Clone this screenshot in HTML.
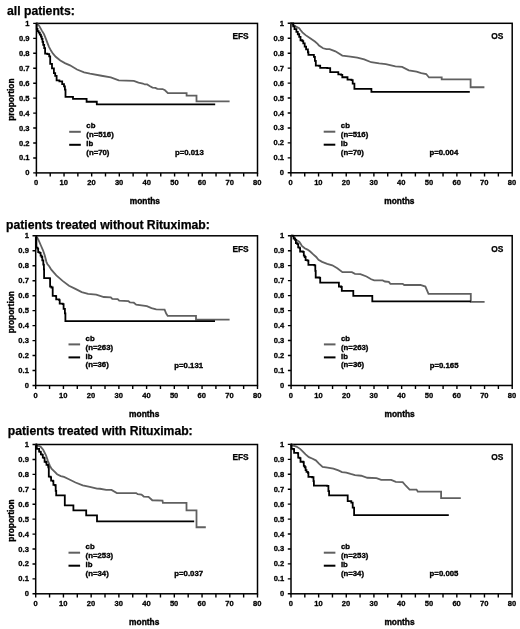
<!DOCTYPE html>
<html><head><meta charset="utf-8"><title>Kaplan-Meier curves</title>
<style>
html,body{margin:0;padding:0;background:#fff;-webkit-font-smoothing:antialiased;}
body{width:520px;height:629px;overflow:hidden;}
svg{display:block;filter:grayscale(1);}
text{font-family:"Liberation Sans",sans-serif;font-weight:bold;fill:#000;stroke:#000;stroke-width:0.25px;}
.tl{font-size:12.2px;}
.tk{font-size:8.0px;stroke-width:0.3px;}
.lg{font-size:7.95px;stroke-width:0.35px;}
.lb{font-size:8.4px;}
.ax{font-size:8.4px;stroke-width:0.35px;}
.box{fill:none;stroke:#000;stroke-width:1.5;}
.tick{stroke:#000;stroke-width:1.4;}
.cg{fill:none;stroke:#606060;stroke-width:1.8;stroke-linejoin:miter;}
.cb{fill:none;stroke:#000;stroke-width:1.8;stroke-linejoin:miter;}
</style></head><body>
<svg width="520" height="629" viewBox="0 0 520 629">
<rect x="0" y="0" width="520" height="629" fill="#fff"/>
<text class="tl" x="7" y="14.6">all patients:</text>
<text class="tl" x="6" y="228.5">patients treated without Rituximab:</text>
<text class="tl" x="7.8" y="434.6">patients treated with Rituximab:</text>
<g>
<rect class="box" x="36.4" y="23.4" width="221.1" height="149.5"/>
<path class="tick" d="M33.2 172.9H36.4M33.2 157.95H36.4M33.2 143H36.4M33.2 128.05H36.4M33.2 113.1H36.4M33.2 98.15H36.4M33.2 83.2H36.4M33.2 68.25H36.4M33.2 53.3H36.4M33.2 38.35H36.4M33.2 23.4H36.4M36.4 172.9V176.5M50.22 172.9V176.5M64.04 172.9V176.5M77.86 172.9V176.5M91.67 172.9V176.5M105.49 172.9V176.5M119.31 172.9V176.5M133.13 172.9V176.5M146.95 172.9V176.5M160.77 172.9V176.5M174.59 172.9V176.5M188.41 172.9V176.5M202.22 172.9V176.5M216.04 172.9V176.5M229.86 172.9V176.5M243.68 172.9V176.5M257.5 172.9V176.5"/>
<text class="tk" text-anchor="end" transform="translate(29.6 175.4) scale(0.95 1)">0</text>
<text class="tk" text-anchor="end" transform="translate(29.6 160.45) scale(0.95 1)">0.1</text>
<text class="tk" text-anchor="end" transform="translate(29.6 145.5) scale(0.95 1)">0.2</text>
<text class="tk" text-anchor="end" transform="translate(29.6 130.55) scale(0.95 1)">0.3</text>
<text class="tk" text-anchor="end" transform="translate(29.6 115.6) scale(0.95 1)">0.4</text>
<text class="tk" text-anchor="end" transform="translate(29.6 100.65) scale(0.95 1)">0.5</text>
<text class="tk" text-anchor="end" transform="translate(29.6 85.7) scale(0.95 1)">0.6</text>
<text class="tk" text-anchor="end" transform="translate(29.6 70.75) scale(0.95 1)">0.7</text>
<text class="tk" text-anchor="end" transform="translate(29.6 55.8) scale(0.95 1)">0.8</text>
<text class="tk" text-anchor="end" transform="translate(29.6 40.85) scale(0.95 1)">0.9</text>
<text class="tk" text-anchor="end" transform="translate(29.6 25.9) scale(0.95 1)">1</text>
<text class="tk" text-anchor="middle" transform="translate(36.2 185.1) scale(0.95 1)">0</text>
<text class="tk" text-anchor="middle" transform="translate(63.84 185.1) scale(0.95 1)">10</text>
<text class="tk" text-anchor="middle" transform="translate(91.47 185.1) scale(0.95 1)">20</text>
<text class="tk" text-anchor="middle" transform="translate(119.11 185.1) scale(0.95 1)">30</text>
<text class="tk" text-anchor="middle" transform="translate(146.75 185.1) scale(0.95 1)">40</text>
<text class="tk" text-anchor="middle" transform="translate(174.39 185.1) scale(0.95 1)">50</text>
<text class="tk" text-anchor="middle" transform="translate(202.03 185.1) scale(0.95 1)">60</text>
<text class="tk" text-anchor="middle" transform="translate(229.66 185.1) scale(0.95 1)">70</text>
<text class="tk" text-anchor="middle" transform="translate(257.3 185.1) scale(0.95 1)">80</text>
<text class="ax" x="144.9" y="204.1" text-anchor="middle">months</text>
<text class="ax" x="0" y="0" text-anchor="middle" transform="translate(13.7 99.6) rotate(-90)">proportion</text>
<text class="lb" x="248.7" y="39.2" text-anchor="end">EFS</text>
<path d="M69.2 131.8H80.8" stroke="#606060" stroke-width="2"/>
<path d="M69.2 144.8H80.8" stroke="#000" stroke-width="2"/>
<text class="lg" transform="translate(86.3 128.1) scale(0.98 1)">cb</text>
<text class="lg" transform="translate(86.3 137) scale(0.98 1)">(n=516)</text>
<text class="lg" transform="translate(86.3 145.9) scale(0.98 1)">ib</text>
<text class="lg" transform="translate(86.3 154.8) scale(0.98 1)">(n=70)</text>
<text class="lg" transform="translate(175 154.9) scale(0.98 1)">p=0.013</text>
<polyline class="cg" points="36.4,23.4 37.5,23.95 39.4,26.15 41.7,30.35 44,34.15 45.9,38.85 47.4,42.85 49,46.85 51.1,50.85 53,53.65 55.7,56.75 60.3,60.55 64.9,63.15 70,65.35 77,69.55 84.1,72.35 90,73.65 101.5,75.75 110.8,77.45 118.8,80.35 133.8,80.95 138.5,82.65 142.9,83.55 144.8,84.45 147.2,84.45 149.6,85.95 152.5,87.65 155.4,87.85 157.3,88.85 162.6,89.05 165,90.25 167.9,93.15 186.6,93.15 186.6,95.55 196.5,95.55 196.5,101.35 229.6,101.35"/>
<path class="cb" d="M36.4 23.4H36.7V23.85H36.7V28.85H37.5V31.15H38.6V32.65H39.8V34.55H40.9V36.55H41.7V38.85H42.5V41.85H43.2V44.95H44.2V48.15H45.1V53.65H47.4V54.15H49.2V56.45H50.2V63.85H52V68.45H53.9V73.05H55.2V75.85H56.6V80.45H59.4V81.35H62.2V84.15H64V86.45H64.9V89.65H65.5V96.95H73V96.95H73V98.85H86.6V98.85H86.6V101.75H96.8V101.75H96.8V104.35H215.2V104.35"/>
</g>
<g>
<rect class="box" x="290.9" y="23.3" width="221.3" height="149.5"/>
<path class="tick" d="M287.7 172.8H290.9M287.7 157.85H290.9M287.7 142.9H290.9M287.7 127.95H290.9M287.7 113H290.9M287.7 98.05H290.9M287.7 83.1H290.9M287.7 68.15H290.9M287.7 53.2H290.9M287.7 38.25H290.9M287.7 23.3H290.9M290.9 172.8V176.4M304.73 172.8V176.4M318.56 172.8V176.4M332.39 172.8V176.4M346.23 172.8V176.4M360.06 172.8V176.4M373.89 172.8V176.4M387.72 172.8V176.4M401.55 172.8V176.4M415.38 172.8V176.4M429.21 172.8V176.4M443.04 172.8V176.4M456.88 172.8V176.4M470.71 172.8V176.4M484.54 172.8V176.4M498.37 172.8V176.4M512.2 172.8V176.4"/>
<text class="tk" text-anchor="end" transform="translate(284.1 175.3) scale(0.95 1)">0</text>
<text class="tk" text-anchor="end" transform="translate(284.1 160.35) scale(0.95 1)">0.1</text>
<text class="tk" text-anchor="end" transform="translate(284.1 145.4) scale(0.95 1)">0.2</text>
<text class="tk" text-anchor="end" transform="translate(284.1 130.45) scale(0.95 1)">0.3</text>
<text class="tk" text-anchor="end" transform="translate(284.1 115.5) scale(0.95 1)">0.4</text>
<text class="tk" text-anchor="end" transform="translate(284.1 100.55) scale(0.95 1)">0.5</text>
<text class="tk" text-anchor="end" transform="translate(284.1 85.6) scale(0.95 1)">0.6</text>
<text class="tk" text-anchor="end" transform="translate(284.1 70.65) scale(0.95 1)">0.7</text>
<text class="tk" text-anchor="end" transform="translate(284.1 55.7) scale(0.95 1)">0.8</text>
<text class="tk" text-anchor="end" transform="translate(284.1 40.75) scale(0.95 1)">0.9</text>
<text class="tk" text-anchor="end" transform="translate(284.1 25.8) scale(0.95 1)">1</text>
<text class="tk" text-anchor="middle" transform="translate(290.7 185) scale(0.95 1)">0</text>
<text class="tk" text-anchor="middle" transform="translate(318.36 185) scale(0.95 1)">10</text>
<text class="tk" text-anchor="middle" transform="translate(346.03 185) scale(0.95 1)">20</text>
<text class="tk" text-anchor="middle" transform="translate(373.69 185) scale(0.95 1)">30</text>
<text class="tk" text-anchor="middle" transform="translate(401.35 185) scale(0.95 1)">40</text>
<text class="tk" text-anchor="middle" transform="translate(429.01 185) scale(0.95 1)">50</text>
<text class="tk" text-anchor="middle" transform="translate(456.68 185) scale(0.95 1)">60</text>
<text class="tk" text-anchor="middle" transform="translate(484.34 185) scale(0.95 1)">70</text>
<text class="tk" text-anchor="middle" transform="translate(512 185) scale(0.95 1)">80</text>
<text class="ax" x="399.4" y="204" text-anchor="middle">months</text>
<text class="lb" x="503.4" y="39.1" text-anchor="end">OS</text>
<path d="M323.7 131.7H335.3" stroke="#606060" stroke-width="2"/>
<path d="M323.7 144.7H335.3" stroke="#000" stroke-width="2"/>
<text class="lg" transform="translate(340.8 128) scale(0.98 1)">cb</text>
<text class="lg" transform="translate(340.8 136.9) scale(0.98 1)">(n=516)</text>
<text class="lg" transform="translate(340.8 145.8) scale(0.98 1)">ib</text>
<text class="lg" transform="translate(340.8 154.7) scale(0.98 1)">(n=70)</text>
<text class="lg" transform="translate(429.5 154.8) scale(0.98 1)">p=0.004</text>
<polyline class="cg" points="290.9,23.3 291.8,24.05 295.5,26.35 299.2,28.15 300.5,30.05 302.4,32.35 305.6,35.15 310.2,38.35 314.9,41.55 317.6,43.85 319,45.55 323.1,48.25 326.5,49.15 329.6,49.15 335.4,51.35 342.3,55.55 350.4,56.55 357.3,57.65 364.2,59.35 371.2,62.25 379.2,63.45 385.8,64.05 395.4,66.35 402.1,66.85 408.8,70.35 416.5,71.65 421.3,73.05 426.2,74.05 429,77.45 441.7,77.45 441.7,79.45 470.6,79.45 470.6,87.25 484.4,87.25"/>
<path class="cb" d="M290.9 23.3H293.2V26.35H294.5V29.15H296.4V31.85H297.8V34.25H299.2V36.95H300.5V40.25H302.4V41.15H303.3V43.45H304.7V46.65H306.1V49.45H307.9V52.25H308.4V54.95H313V54.95H313.9V56.85H314.9V60.95H315.8V65.55H319V65.75H320.2V67.85H326.5V67.85H327.3V68.05H330.2V72.05H337.1V72.05H338.3V74.35H341.2V74.95H342.3V77.25H346.3V77.25H347.5V79.55H351.5V80.15H352.7V83.65H354.4V88.85H371.4V88.85H371.4V91.85H469.8V91.85"/>
</g>
<g>
<rect class="box" x="35.7" y="235.8" width="221.8" height="149.7"/>
<path class="tick" d="M32.5 385.5H35.7M32.5 370.53H35.7M32.5 355.56H35.7M32.5 340.59H35.7M32.5 325.62H35.7M32.5 310.65H35.7M32.5 295.68H35.7M32.5 280.71H35.7M32.5 265.74H35.7M32.5 250.77H35.7M32.5 235.8H35.7M35.7 385.5V389.1M49.56 385.5V389.1M63.43 385.5V389.1M77.29 385.5V389.1M91.15 385.5V389.1M105.01 385.5V389.1M118.88 385.5V389.1M132.74 385.5V389.1M146.6 385.5V389.1M160.46 385.5V389.1M174.32 385.5V389.1M188.19 385.5V389.1M202.05 385.5V389.1M215.91 385.5V389.1M229.78 385.5V389.1M243.64 385.5V389.1M257.5 385.5V389.1"/>
<text class="tk" text-anchor="end" transform="translate(28.9 388) scale(0.95 1)">0</text>
<text class="tk" text-anchor="end" transform="translate(28.9 373.03) scale(0.95 1)">0.1</text>
<text class="tk" text-anchor="end" transform="translate(28.9 358.06) scale(0.95 1)">0.2</text>
<text class="tk" text-anchor="end" transform="translate(28.9 343.09) scale(0.95 1)">0.3</text>
<text class="tk" text-anchor="end" transform="translate(28.9 328.12) scale(0.95 1)">0.4</text>
<text class="tk" text-anchor="end" transform="translate(28.9 313.15) scale(0.95 1)">0.5</text>
<text class="tk" text-anchor="end" transform="translate(28.9 298.18) scale(0.95 1)">0.6</text>
<text class="tk" text-anchor="end" transform="translate(28.9 283.21) scale(0.95 1)">0.7</text>
<text class="tk" text-anchor="end" transform="translate(28.9 268.24) scale(0.95 1)">0.8</text>
<text class="tk" text-anchor="end" transform="translate(28.9 253.27) scale(0.95 1)">0.9</text>
<text class="tk" text-anchor="end" transform="translate(28.9 238.3) scale(0.95 1)">1</text>
<text class="tk" text-anchor="middle" transform="translate(35.5 397.7) scale(0.95 1)">0</text>
<text class="tk" text-anchor="middle" transform="translate(63.23 397.7) scale(0.95 1)">10</text>
<text class="tk" text-anchor="middle" transform="translate(90.95 397.7) scale(0.95 1)">20</text>
<text class="tk" text-anchor="middle" transform="translate(118.68 397.7) scale(0.95 1)">30</text>
<text class="tk" text-anchor="middle" transform="translate(146.4 397.7) scale(0.95 1)">40</text>
<text class="tk" text-anchor="middle" transform="translate(174.12 397.7) scale(0.95 1)">50</text>
<text class="tk" text-anchor="middle" transform="translate(201.85 397.7) scale(0.95 1)">60</text>
<text class="tk" text-anchor="middle" transform="translate(229.58 397.7) scale(0.95 1)">70</text>
<text class="tk" text-anchor="middle" transform="translate(257.3 397.7) scale(0.95 1)">80</text>
<text class="ax" x="144.2" y="416.7" text-anchor="middle">months</text>
<text class="ax" x="0" y="0" text-anchor="middle" transform="translate(13.7 312.2) rotate(-90)">proportion</text>
<text class="lb" x="248.7" y="251.8" text-anchor="end">EFS</text>
<path d="M68.5 344.4H80.1" stroke="#606060" stroke-width="2"/>
<path d="M68.5 357.4H80.1" stroke="#000" stroke-width="2"/>
<text class="lg" transform="translate(85.6 340.7) scale(0.98 1)">cb</text>
<text class="lg" transform="translate(85.6 349.6) scale(0.98 1)">(n=263)</text>
<text class="lg" transform="translate(85.6 358.5) scale(0.98 1)">ib</text>
<text class="lg" transform="translate(85.6 367.4) scale(0.98 1)">(n=36)</text>
<text class="lg" transform="translate(174.3 367.5) scale(0.98 1)">p=0.131</text>
<polyline class="cg" points="35.7,235.8 37.1,237.2 38.8,240.6 40.9,245.5 43,250.3 44.7,255.2 46.5,262.1 47.5,264.2 49.2,266.3 51.3,269.7 56.3,275.4 62.6,280.9 69,285.7 75.4,288.9 81.7,292.1 88.1,293.8 96.2,294.6 103.8,297 110.8,297.3 112.3,298.9 117.7,299.2 119.2,300.7 128.5,301.2 130,302.4 133.8,302.7 136.2,304.6 146.9,306.2 151.5,308.1 156.2,309.3 164.6,309.6 166.2,313.5 167.7,315.9 196,315.9 196,319.7 229.6,319.7"/>
<path class="cb" d="M35.7 235.8H36.4V247.6H37.5V248.6H38.2V252.1H39.5V252.8H40.6V255.6H41.6V257H42.3V260.4H43.3V264.6H43.9V269.4H44.1V278.1H49.6V278.3H50.1V286.6H51.4V287.5H52.7V295.8H55.7V296.2H56.2V299.3H59.2V300.1H59.7V303.6H62.7V304.1H63.6V308.9H64.9V313.3H65.4V321.1H215V321.1"/>
</g>
<g>
<rect class="box" x="291.1" y="235.7" width="221.1" height="149.8"/>
<path class="tick" d="M287.9 385.5H291.1M287.9 370.52H291.1M287.9 355.54H291.1M287.9 340.56H291.1M287.9 325.58H291.1M287.9 310.6H291.1M287.9 295.62H291.1M287.9 280.64H291.1M287.9 265.66H291.1M287.9 250.68H291.1M287.9 235.7H291.1M291.1 385.5V389.1M304.92 385.5V389.1M318.74 385.5V389.1M332.56 385.5V389.1M346.38 385.5V389.1M360.19 385.5V389.1M374.01 385.5V389.1M387.83 385.5V389.1M401.65 385.5V389.1M415.47 385.5V389.1M429.29 385.5V389.1M443.11 385.5V389.1M456.93 385.5V389.1M470.74 385.5V389.1M484.56 385.5V389.1M498.38 385.5V389.1M512.2 385.5V389.1"/>
<text class="tk" text-anchor="end" transform="translate(284.3 388) scale(0.95 1)">0</text>
<text class="tk" text-anchor="end" transform="translate(284.3 373.02) scale(0.95 1)">0.1</text>
<text class="tk" text-anchor="end" transform="translate(284.3 358.04) scale(0.95 1)">0.2</text>
<text class="tk" text-anchor="end" transform="translate(284.3 343.06) scale(0.95 1)">0.3</text>
<text class="tk" text-anchor="end" transform="translate(284.3 328.08) scale(0.95 1)">0.4</text>
<text class="tk" text-anchor="end" transform="translate(284.3 313.1) scale(0.95 1)">0.5</text>
<text class="tk" text-anchor="end" transform="translate(284.3 298.12) scale(0.95 1)">0.6</text>
<text class="tk" text-anchor="end" transform="translate(284.3 283.14) scale(0.95 1)">0.7</text>
<text class="tk" text-anchor="end" transform="translate(284.3 268.16) scale(0.95 1)">0.8</text>
<text class="tk" text-anchor="end" transform="translate(284.3 253.18) scale(0.95 1)">0.9</text>
<text class="tk" text-anchor="end" transform="translate(284.3 238.2) scale(0.95 1)">1</text>
<text class="tk" text-anchor="middle" transform="translate(290.9 397.7) scale(0.95 1)">0</text>
<text class="tk" text-anchor="middle" transform="translate(318.54 397.7) scale(0.95 1)">10</text>
<text class="tk" text-anchor="middle" transform="translate(346.18 397.7) scale(0.95 1)">20</text>
<text class="tk" text-anchor="middle" transform="translate(373.81 397.7) scale(0.95 1)">30</text>
<text class="tk" text-anchor="middle" transform="translate(401.45 397.7) scale(0.95 1)">40</text>
<text class="tk" text-anchor="middle" transform="translate(429.09 397.7) scale(0.95 1)">50</text>
<text class="tk" text-anchor="middle" transform="translate(456.73 397.7) scale(0.95 1)">60</text>
<text class="tk" text-anchor="middle" transform="translate(484.36 397.7) scale(0.95 1)">70</text>
<text class="tk" text-anchor="middle" transform="translate(512 397.7) scale(0.95 1)">80</text>
<text class="ax" x="399.6" y="416.7" text-anchor="middle">months</text>
<text class="lb" x="503.4" y="251.8" text-anchor="end">OS</text>
<path d="M323.9 344.4H335.5" stroke="#606060" stroke-width="2"/>
<path d="M323.9 357.4H335.5" stroke="#000" stroke-width="2"/>
<text class="lg" transform="translate(341 340.7) scale(0.98 1)">cb</text>
<text class="lg" transform="translate(341 349.6) scale(0.98 1)">(n=263)</text>
<text class="lg" transform="translate(341 358.5) scale(0.98 1)">ib</text>
<text class="lg" transform="translate(341 367.4) scale(0.98 1)">(n=36)</text>
<text class="lg" transform="translate(429.7 367.5) scale(0.98 1)">p=0.165</text>
<polyline class="cg" points="291.1,235.7 292.7,235.8 294.5,238.1 296.8,240.4 299.2,241.8 300.5,243.6 301.9,245.9 304.7,248.2 307.5,249.6 310.2,251.5 313,254.2 316.2,257 318.5,259.8 322.1,261.9 327.2,263.8 332.3,265.3 337.3,268.3 342.4,272.1 351.9,272.2 355,273.8 360.4,274.2 366.5,276.5 371.2,279.3 374.2,280.4 382.7,280.4 385,281.5 388.8,281.9 390.4,283.8 402.7,283.8 404.2,285 420.4,285 425.4,286.6 428.5,293.8 470.8,293.8 470.8,301.8 484.6,301.8"/>
<path class="cb" d="M291.1 235.7H292.7V235.8H293.6V238.5H295V239.9H295.9V243.2H297.3V244.1H298.2V247.3H299.6V248.2H300.1V251.5H302.9V251.9H303.8V255.6H304.7V257H305.6V260.2H307.5V260.7H308.4V264.9H314.4V265.3H315.3V270.9H315.7V277.5H319.5V277.8H320.2V282.6H338V282.6H338.9V286.5H341.2V287H341.8V290.9H352.9V290.9H353.3V295.8H372.1V295.8H372.3V301.3H470.8V301.3"/>
</g>
<g>
<rect class="box" x="35.7" y="444.5" width="221.8" height="149.3"/>
<path class="tick" d="M32.5 593.8H35.7M32.5 578.87H35.7M32.5 563.94H35.7M32.5 549.01H35.7M32.5 534.08H35.7M32.5 519.15H35.7M32.5 504.22H35.7M32.5 489.29H35.7M32.5 474.36H35.7M32.5 459.43H35.7M32.5 444.5H35.7M35.7 593.8V597.4M49.56 593.8V597.4M63.43 593.8V597.4M77.29 593.8V597.4M91.15 593.8V597.4M105.01 593.8V597.4M118.88 593.8V597.4M132.74 593.8V597.4M146.6 593.8V597.4M160.46 593.8V597.4M174.32 593.8V597.4M188.19 593.8V597.4M202.05 593.8V597.4M215.91 593.8V597.4M229.78 593.8V597.4M243.64 593.8V597.4M257.5 593.8V597.4"/>
<text class="tk" text-anchor="end" transform="translate(28.9 596.3) scale(0.95 1)">0</text>
<text class="tk" text-anchor="end" transform="translate(28.9 581.37) scale(0.95 1)">0.1</text>
<text class="tk" text-anchor="end" transform="translate(28.9 566.44) scale(0.95 1)">0.2</text>
<text class="tk" text-anchor="end" transform="translate(28.9 551.51) scale(0.95 1)">0.3</text>
<text class="tk" text-anchor="end" transform="translate(28.9 536.58) scale(0.95 1)">0.4</text>
<text class="tk" text-anchor="end" transform="translate(28.9 521.65) scale(0.95 1)">0.5</text>
<text class="tk" text-anchor="end" transform="translate(28.9 506.72) scale(0.95 1)">0.6</text>
<text class="tk" text-anchor="end" transform="translate(28.9 491.79) scale(0.95 1)">0.7</text>
<text class="tk" text-anchor="end" transform="translate(28.9 476.86) scale(0.95 1)">0.8</text>
<text class="tk" text-anchor="end" transform="translate(28.9 461.93) scale(0.95 1)">0.9</text>
<text class="tk" text-anchor="end" transform="translate(28.9 447) scale(0.95 1)">1</text>
<text class="tk" text-anchor="middle" transform="translate(35.5 606) scale(0.95 1)">0</text>
<text class="tk" text-anchor="middle" transform="translate(63.23 606) scale(0.95 1)">10</text>
<text class="tk" text-anchor="middle" transform="translate(90.95 606) scale(0.95 1)">20</text>
<text class="tk" text-anchor="middle" transform="translate(118.68 606) scale(0.95 1)">30</text>
<text class="tk" text-anchor="middle" transform="translate(146.4 606) scale(0.95 1)">40</text>
<text class="tk" text-anchor="middle" transform="translate(174.12 606) scale(0.95 1)">50</text>
<text class="tk" text-anchor="middle" transform="translate(201.85 606) scale(0.95 1)">60</text>
<text class="tk" text-anchor="middle" transform="translate(229.58 606) scale(0.95 1)">70</text>
<text class="tk" text-anchor="middle" transform="translate(257.3 606) scale(0.95 1)">80</text>
<text class="ax" x="144.2" y="625" text-anchor="middle">months</text>
<text class="ax" x="0" y="0" text-anchor="middle" transform="translate(13.7 520.5) rotate(-90)">proportion</text>
<text class="lb" x="248.7" y="460.1" text-anchor="end">EFS</text>
<path d="M68.5 552.7H80.1" stroke="#606060" stroke-width="2"/>
<path d="M68.5 565.7H80.1" stroke="#000" stroke-width="2"/>
<text class="lg" transform="translate(85.6 549) scale(0.98 1)">cb</text>
<text class="lg" transform="translate(85.6 557.9) scale(0.98 1)">(n=253)</text>
<text class="lg" transform="translate(85.6 566.8) scale(0.98 1)">ib</text>
<text class="lg" transform="translate(85.6 575.7) scale(0.98 1)">(n=34)</text>
<text class="lg" transform="translate(174.3 575.8) scale(0.98 1)">p=0.037</text>
<polyline class="cg" points="35.7,444.5 36.8,445.15 40.5,446.55 43.2,449.75 46,455.25 47.9,460.85 49.7,465.45 51.5,468.65 54.3,471.45 57.1,474.25 60.8,476.05 64,476.95 68.4,478.95 75.5,482.55 82.7,485.45 89.8,486.85 97,488.55 100,488.75 106.2,489.95 111.5,489.95 116.9,493.05 136.2,493.05 137.7,494.15 141.5,494.55 143.8,496.55 148.5,496.85 152.3,500.25 162.5,500.55 162.9,502.95 186.5,502.95 186.5,510.35 196.5,510.35 196.5,527.25 205.8,527.25"/>
<path class="cb" d="M35.7 444.5H36.4V445.15H36.8V448.85H38.6V448.95H39.1V451.55H40.5V452.05H40.9V454.35H42.3V454.85H42.8V457.55H44.2V458.05H44.6V461.75H46V462.25H46.5V464.95H47.9V465.45H48.3V467.25H48.8V476.55H50.6V477.45H51.1V480.65H52.9V481.15H53.4V484.85H54.8V485.25H55.7V490.85H56.2V495.45H63.5V495.45H64.8V505.45H72.8V505.45H73.4V510.45H85.7V510.45H86.2V515.45H96.5V515.45H97V521.35H194.2V521.35"/>
</g>
<g>
<rect class="box" x="291" y="444.4" width="221.1" height="149.4"/>
<path class="tick" d="M287.8 593.8H291M287.8 578.86H291M287.8 563.92H291M287.8 548.98H291M287.8 534.04H291M287.8 519.1H291M287.8 504.16H291M287.8 489.22H291M287.8 474.28H291M287.8 459.34H291M287.8 444.4H291M291 593.8V597.4M304.82 593.8V597.4M318.64 593.8V597.4M332.46 593.8V597.4M346.27 593.8V597.4M360.09 593.8V597.4M373.91 593.8V597.4M387.73 593.8V597.4M401.55 593.8V597.4M415.37 593.8V597.4M429.19 593.8V597.4M443.01 593.8V597.4M456.83 593.8V597.4M470.64 593.8V597.4M484.46 593.8V597.4M498.28 593.8V597.4M512.1 593.8V597.4"/>
<text class="tk" text-anchor="end" transform="translate(284.2 596.3) scale(0.95 1)">0</text>
<text class="tk" text-anchor="end" transform="translate(284.2 581.36) scale(0.95 1)">0.1</text>
<text class="tk" text-anchor="end" transform="translate(284.2 566.42) scale(0.95 1)">0.2</text>
<text class="tk" text-anchor="end" transform="translate(284.2 551.48) scale(0.95 1)">0.3</text>
<text class="tk" text-anchor="end" transform="translate(284.2 536.54) scale(0.95 1)">0.4</text>
<text class="tk" text-anchor="end" transform="translate(284.2 521.6) scale(0.95 1)">0.5</text>
<text class="tk" text-anchor="end" transform="translate(284.2 506.66) scale(0.95 1)">0.6</text>
<text class="tk" text-anchor="end" transform="translate(284.2 491.72) scale(0.95 1)">0.7</text>
<text class="tk" text-anchor="end" transform="translate(284.2 476.78) scale(0.95 1)">0.8</text>
<text class="tk" text-anchor="end" transform="translate(284.2 461.84) scale(0.95 1)">0.9</text>
<text class="tk" text-anchor="end" transform="translate(284.2 446.9) scale(0.95 1)">1</text>
<text class="tk" text-anchor="middle" transform="translate(290.8 606) scale(0.95 1)">0</text>
<text class="tk" text-anchor="middle" transform="translate(318.44 606) scale(0.95 1)">10</text>
<text class="tk" text-anchor="middle" transform="translate(346.07 606) scale(0.95 1)">20</text>
<text class="tk" text-anchor="middle" transform="translate(373.71 606) scale(0.95 1)">30</text>
<text class="tk" text-anchor="middle" transform="translate(401.35 606) scale(0.95 1)">40</text>
<text class="tk" text-anchor="middle" transform="translate(428.99 606) scale(0.95 1)">50</text>
<text class="tk" text-anchor="middle" transform="translate(456.63 606) scale(0.95 1)">60</text>
<text class="tk" text-anchor="middle" transform="translate(484.26 606) scale(0.95 1)">70</text>
<text class="tk" text-anchor="middle" transform="translate(511.9 606) scale(0.95 1)">80</text>
<text class="ax" x="399.5" y="625" text-anchor="middle">months</text>
<text class="lb" x="503.3" y="460.1" text-anchor="end">OS</text>
<path d="M323.8 552.7H335.4" stroke="#606060" stroke-width="2"/>
<path d="M323.8 565.7H335.4" stroke="#000" stroke-width="2"/>
<text class="lg" transform="translate(340.9 549) scale(0.98 1)">cb</text>
<text class="lg" transform="translate(340.9 557.9) scale(0.98 1)">(n=253)</text>
<text class="lg" transform="translate(340.9 566.8) scale(0.98 1)">ib</text>
<text class="lg" transform="translate(340.9 575.7) scale(0.98 1)">(n=34)</text>
<text class="lg" transform="translate(429.6 575.8) scale(0.98 1)">p=0.005</text>
<polyline class="cg" points="291,444.4 291.8,445.15 296.4,446.55 300.1,448.85 302.9,451.55 305.6,454.35 308.9,457.15 312.1,458.55 315.8,460.35 319,463.55 322.6,466.85 327.6,467.55 333.4,468.65 338.4,470.45 342,472.15 346.3,472.55 350.6,473.95 355,475.15 361.2,475.75 367.3,477.75 376.5,478.05 381.2,479.85 391.2,479.85 395.8,481.85 402.7,482.15 405.8,485.75 409.6,489.55 416.5,489.55 417.8,491.55 441.1,491.55 441.1,498.05 460.8,498.05"/>
<path class="cb" d="M291 444.4H291.3V445.15H291.6V448.95H293.6V449.25H294.1V452.95H297.8V453.45H298.2V457.55H299.6V458.05H300.5V461.75H303.3V462.25H303.8V465.85H304.7V467.25H305.6V470.05H306.5V471.85H307.9V472.85H308.4V476.95H312.1V477.25H313.5V481.15H313.9V485.55H326.9V485.85H328.4V491.15H329.1V495.45H347V495.45H347.7V501.15H351.3V502.65H352.7V507.65H354.1V515.15H448.8V515.15"/>
</g>
</svg>
</body></html>
